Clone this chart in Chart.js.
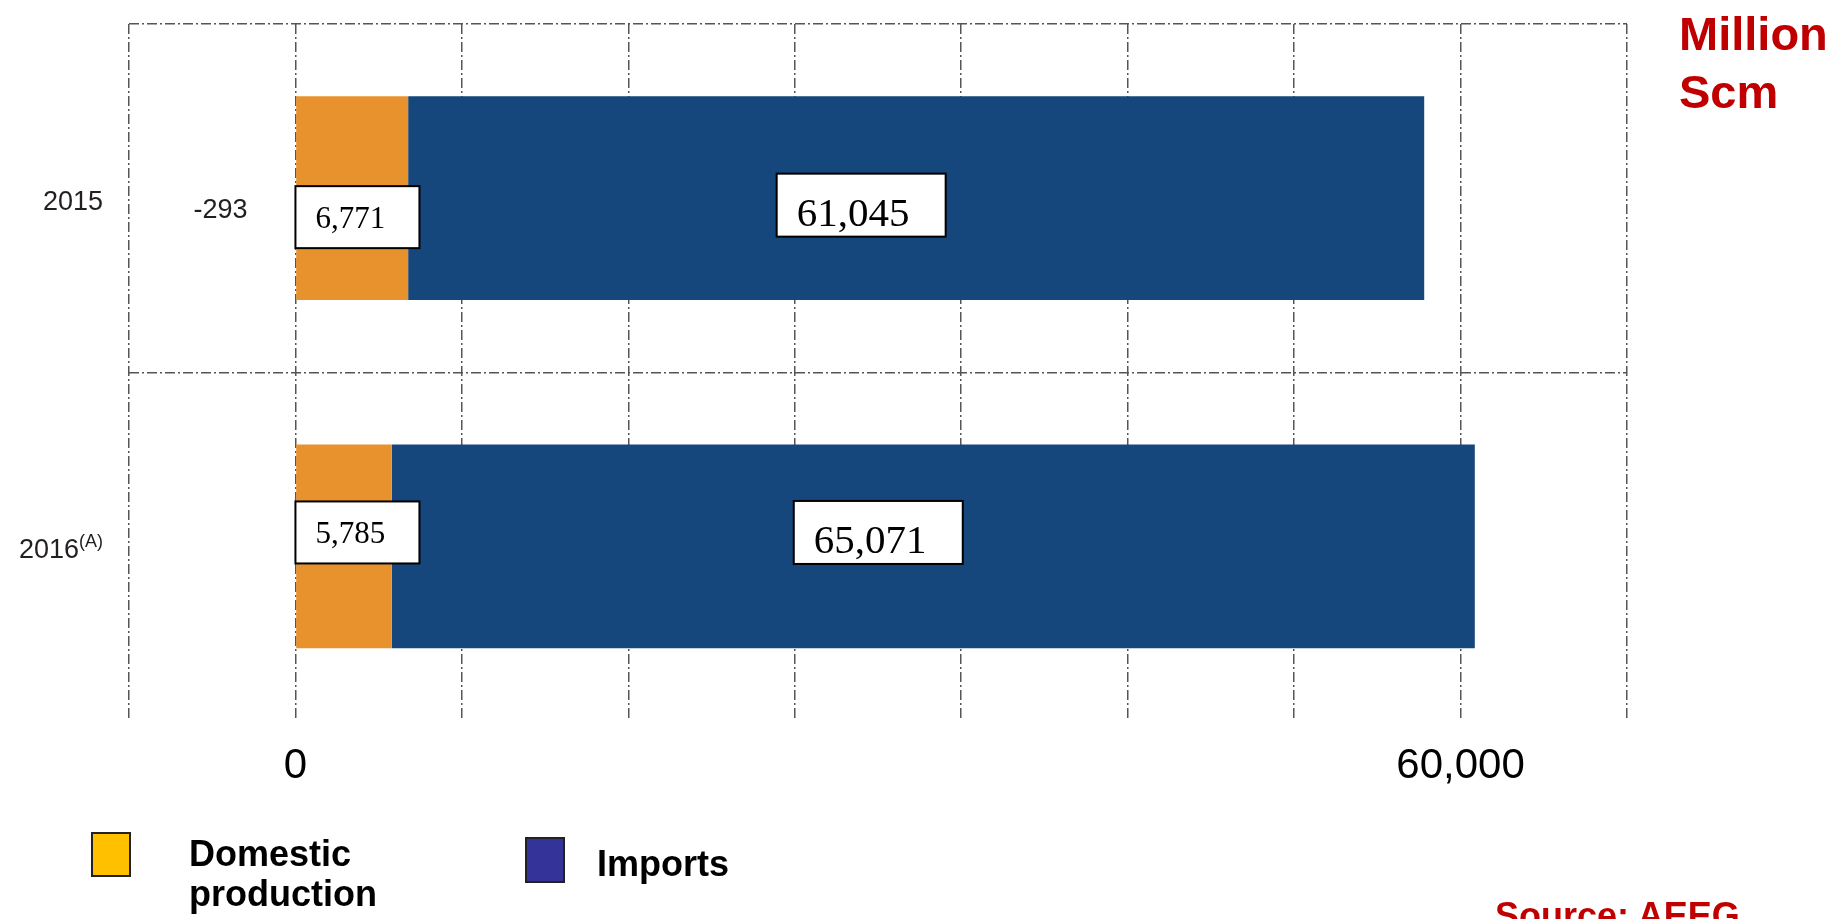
<!DOCTYPE html>
<html>
<head>
<meta charset="utf-8">
<script src="https://cdn.jsdelivr.net/npm/chart.js@4.4.0/dist/chart.umd.min.js"></script>
<style>
  body { margin:0; background:#fff; overflow:hidden; font-family:"Liberation Sans", Arial, sans-serif; }
  #wrap { position:relative; width:1834px; height:919px; overflow:hidden; }
  .note { position:absolute; color:#C00000; font-weight:bold; white-space:nowrap; }
  .legBox { position:absolute; box-sizing:border-box; border:2px solid #222; }
  .legText { position:absolute; font-weight:bold; font-size:36px; line-height:40px; color:#000; width:200px; }
</style>
</head>
<body>
<div id="wrap">
  <canvas id="gasChart" width="1834" height="919"></canvas>
  <div class="note" style="left:1679px; top:5px; font-size:47px; line-height:58px;">Million<br>Scm</div>
  <div class="note" style="left:1495px; top:896px; font-size:36px; line-height:40px;">Source: AEEG</div>
</div>
<script>
var years = ["2015", "2016"];
var yearNotes = ["", "(A)"];
var domestic = [6771, 5785];
var imports = [61045, 65071];
var stockChange = [-293, null];
var xTickText = ["", "0", "", "", "", "", "", "", "60,000", ""];
var seriesNames = ["Domestic production", "Imports"];
var barColors = ["#E8922E", "#15477C"];
var legendColors = ["#FFC000", "#333399"];

// per-row vertical nudge of the value boxes (px)
var domBoxShift = [19, -14];
var impBoxShift = [7, -14];

var gridGrey = "#555";
var dashStyle = [10, 3, 2, 3];

var overlayPlugin = {
  id: "overlay",
  afterDatasetsDraw: function(chart) {
    var c = chart.ctx;
    var xs = chart.scales.x, ys = chart.scales.y;
    var area = chart.chartArea;
    c.save();
    for (var i = 0; i < years.length; i++) {
      var yc = ys.getPixelForValue(i);

      // year label, with optional superscript note
      c.fillStyle = "#231F20";
      c.textBaseline = "alphabetic";
      c.textAlign = "left";
      c.font = '27px "Liberation Sans", Arial, sans-serif';
      var wYear = c.measureText(years[i]).width;
      c.font = '18px "Liberation Sans", Arial, sans-serif';
      var wNote = yearNotes[i] ? c.measureText(yearNotes[i]).width : 0;
      var startX = area.left - 26 - wYear - wNote;
      c.font = '27px "Liberation Sans", Arial, sans-serif';
      c.fillText(years[i], startX, yc + 12);
      if (yearNotes[i]) {
        c.font = '18px "Liberation Sans", Arial, sans-serif';
        c.fillText(yearNotes[i], startX + wYear, yc + 1);
      }

      // stock change text
      if (stockChange[i] !== null) {
        c.font = '27px "Liberation Sans", Arial, sans-serif';
        c.textAlign = "right";
        c.fillText(stockChange[i].toLocaleString("en-US"), xs.getPixelForValue(stockChange[i]) - 43, yc + 20);
        c.textAlign = "left";
      }

      // domestic value box
      var bx = xs.getPixelForValue(0);
      var by = yc + domBoxShift[i] - 31;
      c.fillStyle = "#fff";
      c.fillRect(bx, by, 124, 62);
      c.strokeStyle = "#000";
      c.lineWidth = 2;
      c.strokeRect(bx, by, 124, 62);
      c.fillStyle = "#000";
      c.font = '31px "Liberation Serif", "Times New Roman", serif';
      c.fillText(domestic[i].toLocaleString("en-US"), bx + 20, by + 42);

      // imports value box
      var mid = xs.getPixelForValue(domestic[i] + imports[i] / 2) - 55;
      var ix = mid - 84.5;
      var iy = yc + impBoxShift[i] - 31.5;
      c.fillStyle = "#fff";
      c.fillRect(ix, iy, 169, 63);
      c.strokeRect(ix, iy, 169, 63);
      c.fillStyle = "#000";
      c.font = '41px "Liberation Serif", "Times New Roman", serif';
      c.fillText(imports[i].toLocaleString("en-US"), ix + 20, iy + 52);
    }
    c.restore();
  }
};

new Chart(document.getElementById("gasChart"), {
  type: "bar",
  data: {
    labels: years,
    datasets: [{
      label: seriesNames[0],
      data: domestic,
      backgroundColor: barColors[0],
      barPercentage: 0.585,
      categoryPercentage: 1
    },
    {
      label: seriesNames[1],
      data: imports,
      backgroundColor: barColors[1],
      barPercentage: 0.585,
      categoryPercentage: 1
    }]
  },
  options: {
    indexAxis: "y",
    responsive: false,
    animation: false,
    layout: {padding: {left: 129, right: 207, top: 24, bottom: 106}},
    plugins: {legend: {display: false}, tooltip: {enabled: false}},
    scales: {
      x: {
        stacked: true,
        min: -10000,
        max: 80000,
        ticks: {
          stepSize: 10000,
          autoSkip: false,
          maxRotation: 0,
          padding: 21,
          color: "#000",
          font: {size: 42, family: '"Liberation Sans", Arial, sans-serif'},
          callback: function(v, i) { return xTickText[i]; }
        },
        grid: {color: gridGrey, lineWidth: 1.5, drawTicks: false},
        border: {display: false, dash: dashStyle}
      },
      y: {
        stacked: true,
        ticks: {display: false},
        grid: {
          offset: true,
          drawTicks: false,
          lineWidth: 1.5,
          color: function(ctx) { return ctx.tick ? gridGrey : "rgba(0,0,0,0)"; }
        },
        border: {display: false, dash: dashStyle}
      }
    }
  },
  plugins: [overlayPlugin]
});

// legend
var wrap = document.getElementById("wrap");
var legBoxLeft = [91, 525], legBoxTop = [832, 837], legBoxH = [45, 46];
var legTextLeft = [189, 597], legTextTop = [834, 844];
for (var k = 0; k < seriesNames.length; k++) {
  var box = document.createElement("div");
  box.className = "legBox";
  box.style.left = legBoxLeft[k] + "px";
  box.style.top = legBoxTop[k] + "px";
  box.style.width = "40px";
  box.style.height = legBoxH[k] + "px";
  box.style.background = legendColors[k];
  wrap.appendChild(box);

  var txt = document.createElement("div");
  txt.className = "legText";
  txt.style.left = legTextLeft[k] + "px";
  txt.style.top = legTextTop[k] + "px";
  txt.textContent = seriesNames[k];
  wrap.appendChild(txt);
}
</script>
</body>
</html>
